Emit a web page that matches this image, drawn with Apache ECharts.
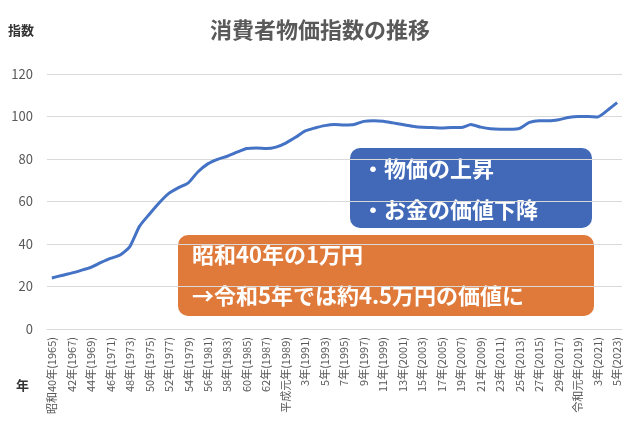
<!DOCTYPE html>
<html><head><meta charset="utf-8">
<script src="https://cdn.jsdelivr.net/npm/echarts@6/dist/echarts.min.js"></script>
<style>html,body{margin:0;background:#fff}#c{width:640px;height:444px}</style>
</head><body><div id="c"></div>
<script>
var years = [];
var eraNames = {1965:'昭和40年',1989:'平成元年',2019:'令和元年'};
for (var y = 1965; y <= 2023; y++) {
  var e;
  if (eraNames[y]) e = eraNames[y];
  else if (y < 1989) e = (y - 1925) + '年';
  else if (y < 2019) e = (y - 1988) + '年';
  else e = (y - 2018) + '年';
  years.push(e + '(' + y + ')');
}
var cpi = [24.0,25.2,26.3,27.6,29.0,31.2,33.2,34.8,38.8,48.4,54.0,59.3,63.8,66.5,68.8,74.0,77.7,79.8,81.3,83.2,84.9,85.2,84.9,85.6,87.5,90.2,93.2,94.6,95.7,96.2,96.0,96.2,97.7,98.0,97.8,97.0,96.2,95.4,94.9,94.8,94.6,94.8,94.8,96.2,95.0,94.2,94.0,94.0,94.4,97.2,98.0,98.0,98.5,99.5,100.0,100.0,99.8,102.9,106.5];

var chart = echarts.init(document.getElementById('c'));
var font = '"Noto Sans CJK JP", sans-serif';
chart.setOption({
  animation: false,
  textStyle: {fontFamily: font},
  title: {text: '消費者物価指数の推移', left: 'center', top: 14,
    textStyle: {fontSize: 22, fontWeight: 'bold', color: '#595959', fontFamily: font}},
  grid: {left: 47, right: 18, top: 74, bottom: 115},
  xAxis: {
    type: 'category', data: years,
    axisLine: {lineStyle: {color: '#d9d9d9'}}, axisTick: {show: false},
    axisLabel: {rotate: 90, interval: 1, fontSize: 11, color: '#595959', margin: 8}
  },
  yAxis: {
    type: 'value', min: 0, max: 120, interval: 20,
    axisLabel: {fontSize: 13, color: '#595959', margin: 14},
    splitLine: {lineStyle: {color: '#d9d9d9'}}
  },
  series: [{type: 'line', data: cpi, symbol: 'none', smooth: 0.2,
    lineStyle: {color: '#4472C4', width: 3}}],
  graphic: [
    {type: 'text', left: 8, top: 24, style: {text: '指数', fontSize: 13, fontWeight: 'bold', fill: '#333', fontFamily: font}},
    {type: 'text', left: 16, top: 379, style: {text: '年', fontSize: 13, fontWeight: 'bold', fill: '#333', fontFamily: font}},
    {type: 'rect', shape: {x: 350, y: 148, width: 242, height: 80, r: 10}, style: {fill: '#4169B8'}},
    {type: 'text', x: 362, y: 148, style: {text: '・物価の上昇\n・お金の価値下降', fontSize: 22, fontWeight: 'bold', lineHeight: 41, fill: '#fff', fontFamily: font}},
    {type: 'rect', shape: {x: 178, y: 235, width: 416, height: 81, r: 10}, style: {fill: '#E07A3A'}},
    {type: 'text', x: 192, y: 234, style: {text: '昭和40年の1万円\n→令和5年では約4.5万円の価値に', fontSize: 22, fontWeight: 'bold', lineHeight: 41, fill: '#fff', fontFamily: font}}
  ]
});
</script></body></html>
